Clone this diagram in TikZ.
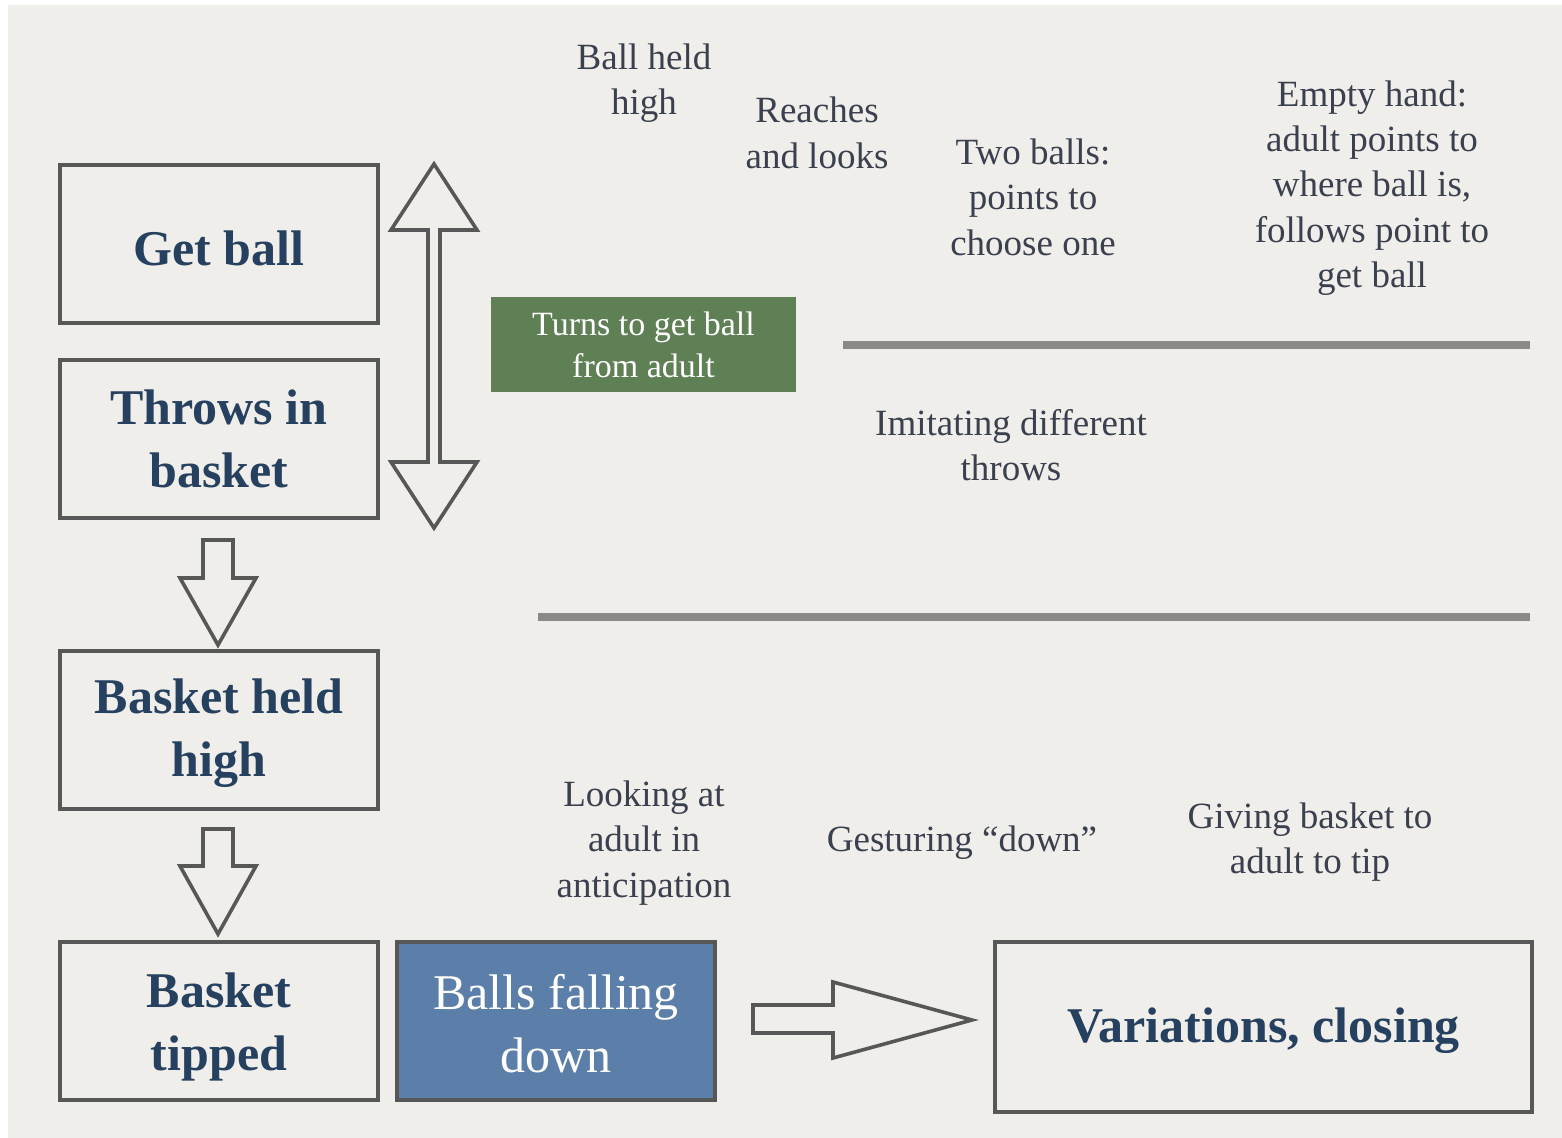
\documentclass[tikz,border=0pt]{standalone}
\usepackage{fontspec}
\setmainfont{Liberation Serif}
\usetikzlibrary{calc}
\definecolor{paper}{HTML}{F0EEEA}
\definecolor{ink}{HTML}{575757}
\definecolor{navy}{HTML}{26405F}
\definecolor{slate}{HTML}{3A404E}
\definecolor{rule}{HTML}{8A8986}
\definecolor{greenbox}{HTML}{5F7F55}
\definecolor{bluebox}{HTML}{5B7FA9}
\tikzset{
  stagebox/.style={draw=ink, line width=2pt, minimum width=159pt, minimum height=79pt,
    align=center, text=navy, font=\fontsize{25}{31.5}\selectfont\bfseries, inner sep=0pt},
  stagetext/.style={align=center, text=navy, font=\fontsize{25}{31.5}\selectfont\bfseries, inner sep=0pt},
  note/.style={align=center, text=slate, font=\fontsize{18.5}{22.7}\selectfont, inner sep=0pt, yshift=-1.5pt},
  blockarrow/.style={draw=ink, line width=1.8pt, fill=paper, line join=miter},
  rulebar/.style={draw=rule, line width=4pt}
}
\begin{document}
\begin{tikzpicture}[x=0.5pt, y=-0.5pt]
\fill[white] (0,0) rectangle (1562,1138);
\fill[paper] (8,5) rectangle (1562,1138);
\useasboundingbox (0,0) rectangle (1562,1138);

% left column boxes
\node[stagebox] (getball) at (219,244) {};
\node[stagetext] (getballtext) at (219,248) {Get ball};
\node[stagebox] (throws) at (219,439) {Throws in\\basket};
\node[stagebox] (held) at (219,730) {};
\node[stagetext] (heldtext) at (219,733) {Basket held\\high};
\node[stagebox] (tipped) at (219,1021) {};
\node[stagetext] (tippedtext) at (219,1027) {Basket\\tipped};
\node[stagebox, fill=bluebox] (falling) at (556,1021) {};
\node[stagetext, text=white, font=\fontsize{25}{31.5}\selectfont] (fallingtext) at (556,1024) {Balls falling\\down};
\node[stagebox, minimum width=268.5pt, minimum height=85pt] (variations) at (1263.5,1027) {};
\node[stagetext] (variationstext) at (1263.5,1031) {Variations, closing};

% green box
\node[fill=greenbox, minimum width=152.5pt, minimum height=47.5pt, inner sep=0pt, align=center,
  text=white, font=\fontsize{17}{21}\selectfont] (turns) at (643.5,344.5) {Turns to get ball\\from adult};

% rules
\coordinate (r1a) at (843,345); \coordinate (r1b) at (1530,345);
\coordinate (r2a) at (538,617); \coordinate (r2b) at (1530,617);
\draw[rulebar] (r1a) -- (r1b);
\draw[rulebar] (r2a) -- (r2b);

% double vertical arrow
\draw[blockarrow] (434,164) -- (477,230) -- (440,230) -- (440,462) -- (477,462) -- (434,528)
  -- (391,462) -- (428,462) -- (428,230) -- (391,230) -- cycle;

% down arrows
\draw[blockarrow] (203,540) -- (233,540) -- (233,578) -- (256,578) -- (218,645) -- (180,578)
  -- (203,578) -- cycle;
\draw[blockarrow] (203,829) -- (233,829) -- (233,866) -- (256,866) -- (218,934) -- (180,866)
  -- (203,866) -- cycle;

% right arrow
\draw[blockarrow] (753,1005) -- (833,1005) -- (833,982) -- (972,1020) -- (833,1058)
  -- (833,1033) -- (753,1033) -- cycle;

% notes
\node[note] (ballheld) at (644,80) {Ball held\\high};
\node[note] (reaches) at (817,130) {Reaches\\and looks};
\node[note] (twoballs) at (1033,194) {Two balls:\\points to\\choose one};
\node[note] (empty) at (1372,185) {Empty hand:\\adult points to\\where ball is,\\follows point to\\get ball};
\node[note] (imitating) at (1011,442) {Imitating different\\throws};
\node[note] (looking) at (644,840) {Looking at\\adult in\\anticipation};
\node[note] (gesturing) at (962,840) {Gesturing “down”};
\node[note] (giving) at (1310,839) {Giving basket to\\adult to tip};
\end{tikzpicture}
\end{document}
